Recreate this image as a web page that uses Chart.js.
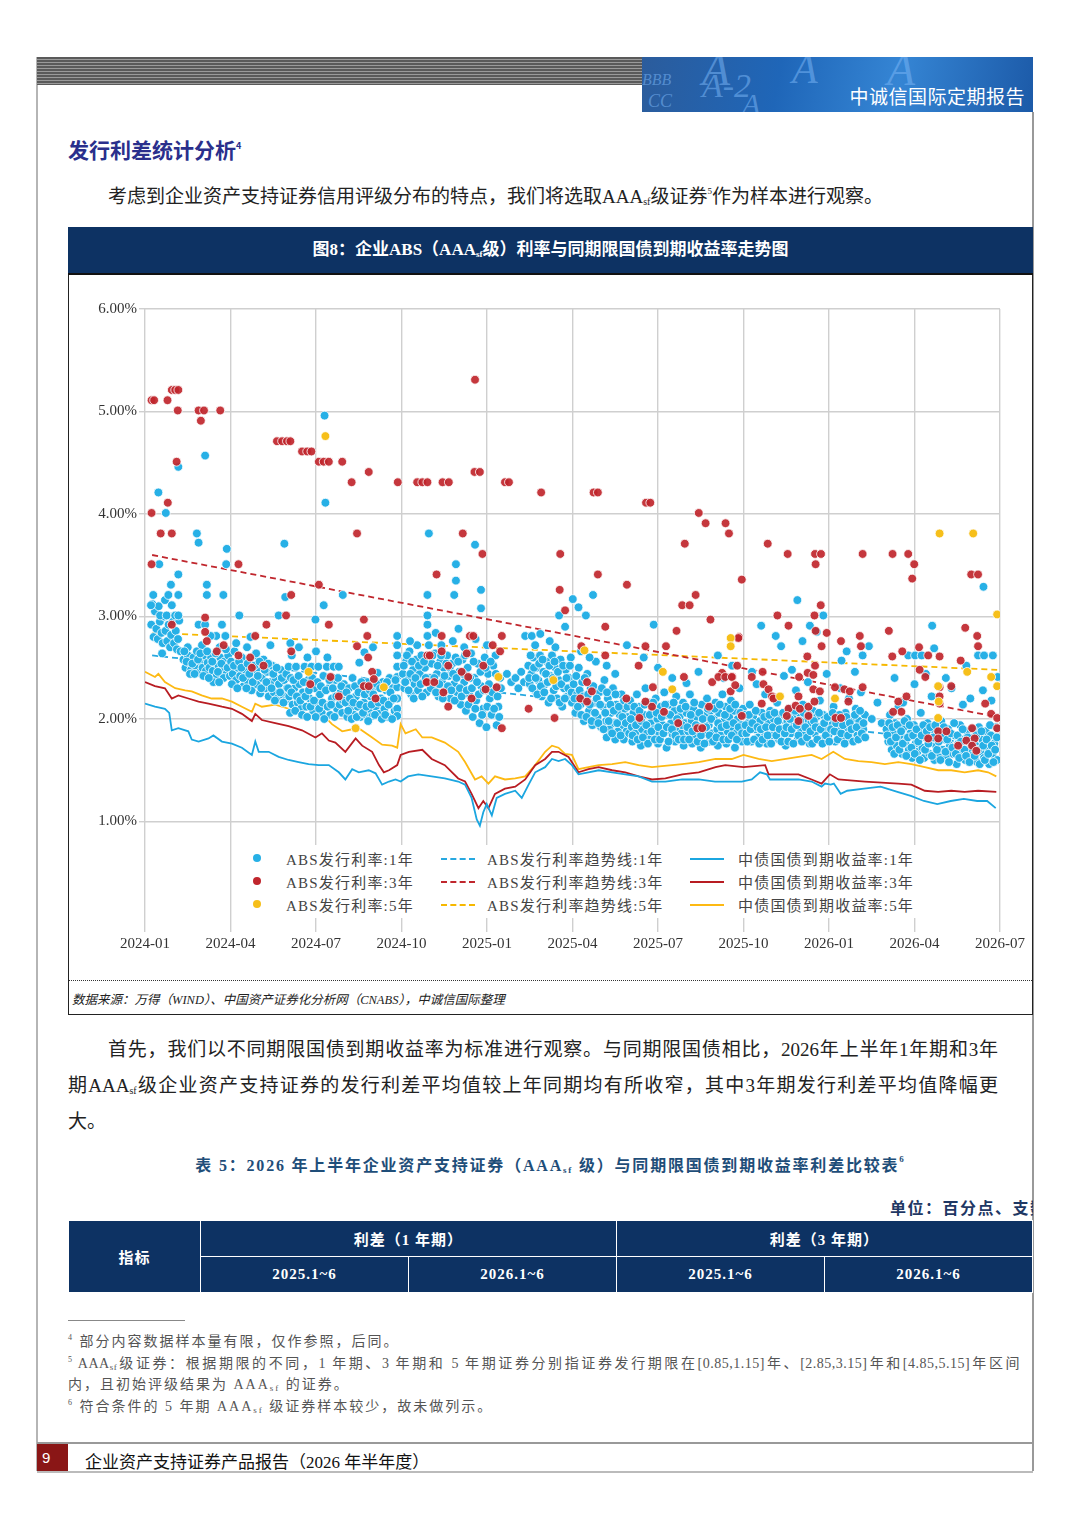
<!DOCTYPE html>
<html lang="zh">
<head>
<meta charset="UTF-8">
<script src="https://cdn.jsdelivr.net/npm/chart.js@4.4.1/dist/chart.umd.min.js"></script>
<title>企业ABS利率与同期限国债到期收益率走势图</title>
<style>
  body { margin: 0; background: #fff; }
  #page { position: relative; width: 1080px; height: 1528px; overflow: hidden; background: #fff;
          font-family: "Liberation Serif", "Noto Sans CJK SC", serif; color: #222; }
  .abs { position: absolute; }
  .stripes { left: 37px; top: 57px; width: 605px; height: 28px;
             background: repeating-linear-gradient(to bottom, #5a5a5a 0 2px, #9a9a9a 2px 3px); }
  .banner { left: 642px; top: 57px; width: 391px; height: 55px; overflow: hidden;
            background: linear-gradient(100deg, #2b5c9c 0%, #1f66b8 35%, #3585d4 65%, #1c5aa8 100%); }
  .banner .lt { position: absolute; font-family: "Liberation Serif"; font-style: italic; color: rgba(120,180,245,0.55); }
  .banner .name { position: absolute; right: 8px; top: 25px; color: #fff; font-size: 19px;
                  font-family: "Noto Sans CJK SC"; letter-spacing: 0.5px; }
  .h2 { left: 68px; top: 134px; font-size: 21px; font-weight: bold; color: #2a2f8c; font-family: "Noto Sans CJK SC"; }
  sup { font-size: 9px; vertical-align: 9px; line-height: 0; }
  sub { font-size: 10px; vertical-align: -2px; line-height: 0; }
  .p { font-size: 19px; color: #222; }
  .chartbox { left: 68px; top: 227px; width: 963px; height: 786px; border: 1.5px solid #222; }
  .ctitle { left: 68px; top: 227px; width: 965px; height: 46px; background: #0d3263; border-bottom: 2px solid #111;
            color: #fff; font-weight: bold; font-size: 17px; text-align: center; line-height: 46px;
            font-family: "Liberation Serif", "Noto Sans CJK SC"; }
  .dotted { left: 69px; top: 980px; width: 963px; border-top: 1px dotted #333; }
  .source { left: 72px; top: 989px; font-size: 12.5px; font-style: italic; color: #222; }
  #wrap { position: absolute; left: 70px; top: 276px; width: 962px; height: 702px; }
  .legend { left: 243px; top: 845px; width: 677px; height: 73px; background: #fff; }
  .legend .it { position: absolute; font-size: 15px; color: #444; letter-spacing: 1.2px; white-space: nowrap; }
  .legend .dot { position: absolute; width: 8px; height: 8px; border-radius: 50%; }
  .legend .ln { position: absolute; width: 34px; height: 0; }
  .tcap { left: 68px; top: 1152px; width: 965px; text-align: center; font-size: 16px; font-weight: bold;
          color: #1f4e79; letter-spacing: 1.8px; }
  .unit { left: 890px; top: 1195px; width: 143px; overflow: hidden; white-space: nowrap; font-size: 16px;
          font-weight: bold; color: #1f3864; letter-spacing: 1.5px; }
  table.t { position: absolute; left: 68px; top: 1220px; width: 965px; border-collapse: collapse; }
  table.t td { background: #0d3263; color: #fff; font-weight: bold; font-size: 15px; text-align: center;
               border: 1.5px solid #fff; height: 35px; padding: 0; letter-spacing: 1px; }
  .fnline { left: 68px; top: 1320px; width: 117px; border-top: 1.5px solid #888; }
  .fn { left: 68px; font-size: 14px; color: #555; white-space: nowrap; letter-spacing: 2px; }
  .fn sup { font-size: 8px; vertical-align: 6px; }
  .fn sub { font-size: 9px; }
</style>
</head>
<body>
<div id="page">
  <!-- page frame -->
  <div class="abs" style="left:36px;top:57px;width:2px;height:1414px;background:#b5b5b5;"></div>
  <div class="abs" style="left:1032px;top:112px;width:1.5px;height:1359px;background:#999;"></div>

  <!-- header -->
  <div class="abs stripes"></div>
  <div class="abs banner">
    <div class="lt" style="left:60px;top:-14px;font-size:46px;">A</div>
    <div class="lt" style="left:150px;top:-12px;font-size:42px;">A</div>
    <div class="lt" style="left:245px;top:-14px;font-size:46px;">A</div>
    <div class="lt" style="left:0px;top:14px;font-size:16px;">BBB</div>
    <div class="lt" style="left:60px;top:10px;font-size:34px;">A-2</div>
    <div class="lt" style="left:6px;top:34px;font-size:18px;">CC</div>
    <div class="lt" style="left:100px;top:30px;font-size:30px;">A</div>
    <div class="name">中诚信国际定期报告</div>
  </div>

  <div class="abs h2">发行利差统计分析<sup>4</sup></div>
  <div class="abs p" style="left:108px;top:181px;">考虑到企业资产支持证券信用评级分布的特点，我们将选取AAA<sub>sf</sub>级证券<sup>5</sup>作为样本进行观察。</div>

  <!-- chart block -->
  <div class="abs chartbox"></div>
  <div class="abs ctitle">图8：企业ABS（AAA<sub style="font-size:9px">sf</sub>级）利率与同期限国债到期收益率走势图</div>
  <div id="wrap"><canvas id="chart"></canvas></div>
  <div class="abs legend">
    <div class="dot" style="left:10px;top:9px;background:#27b0e6;"></div>
    <div class="it" style="left:43px;top:3px;">ABS发行利率:1年</div>
    <div class="dot" style="left:10px;top:32px;background:#c0262d;"></div>
    <div class="it" style="left:43px;top:26px;">ABS发行利率:3年</div>
    <div class="dot" style="left:10px;top:55px;background:#f6bf1a;"></div>
    <div class="it" style="left:43px;top:49px;">ABS发行利率:5年</div>

    <div class="ln" style="left:198px;top:13px;border-top:2px dashed #27a8e0;"></div>
    <div class="it" style="left:244px;top:3px;">ABS发行利率趋势线:1年</div>
    <div class="ln" style="left:198px;top:36px;border-top:2px dashed #c0262d;"></div>
    <div class="it" style="left:244px;top:26px;">ABS发行利率趋势线:3年</div>
    <div class="ln" style="left:198px;top:59px;border-top:2px dashed #f6b800;"></div>
    <div class="it" style="left:244px;top:49px;">ABS发行利率趋势线:5年</div>

    <div class="ln" style="left:447px;top:13px;border-top:2px solid #1ba6e0;"></div>
    <div class="it" style="left:495px;top:3px;">中债国债到期收益率:1年</div>
    <div class="ln" style="left:447px;top:36px;border-top:2px solid #b81c22;"></div>
    <div class="it" style="left:495px;top:26px;">中债国债到期收益率:3年</div>
    <div class="ln" style="left:447px;top:59px;border-top:2px solid #fdb913;"></div>
    <div class="it" style="left:495px;top:49px;">中债国债到期收益率:5年</div>
  </div>
  <div class="abs dotted"></div>
  <div class="abs source">数据来源：万得（WIND）、中国资产证券化分析网（CNABS），中诚信国际整理</div>

  <!-- text after chart -->
  <div class="abs p" style="left:108px;top:1034px;width:890px;text-align:justify;text-align-last:justify;">首先，我们以不同期限国债到期收益率为标准进行观察。与同期限国债相比，2026年上半年1年期和3年</div>
  <div class="abs p" style="left:68px;top:1070px;width:930px;text-align:justify;text-align-last:justify;">期AAA<sub>sf</sub>级企业资产支持证券的发行利差平均值较上年同期均有所收窄，其中3年期发行利差平均值降幅更</div>
  <div class="abs p" style="left:68px;top:1106px;">大。</div>

  <div class="abs tcap">表 5：2026 年上半年企业资产支持证券（AAA<sub style="font-size:9px">sf</sub> 级）与同期限国债到期收益率利差比较表<sup>6</sup></div>
  <div class="abs unit">单位：百分点、支数</div>
  <table class="t">
    <tr><td rowspan="2" style="width:131px;">指标</td><td colspan="2">利差（1 年期）</td><td colspan="2">利差（3 年期）</td></tr>
    <tr><td style="width:207px;">2025.1~6</td><td style="width:207px;">2026.1~6</td><td style="width:207px;">2025.1~6</td><td>2026.1~6</td></tr>
  </table>

  <!-- footnotes -->
  <div class="abs fnline"></div>
  <div class="abs fn" style="top:1330px;"><sup>4</sup> 部分内容数据样本量有限，仅作参照，后同。</div>
  <div class="abs fn" style="top:1352px;left:68px;width:952px;text-align:justify;text-align-last:justify;white-space:normal;letter-spacing:0.5px;"><sup>5</sup> AAA<sub>sf</sub>级证券：根据期限的不同，1 年期、3 年期和 5 年期证券分别指证券发行期限在[0.85,1.15]年、[2.85,3.15]年和[4.85,5.15]年区间</div>
  <div class="abs fn" style="top:1373px;">内，且初始评级结果为 AAA<sub>sf</sub> 的证券。</div>
  <div class="abs fn" style="top:1395px;"><sup>6</sup> 符合条件的 5 年期 AAA<sub>sf</sub> 级证券样本较少，故未做列示。</div>

  <!-- footer -->
  <div class="abs" style="left:37px;top:1442px;width:996px;height:2px;background:#999;"></div>
  <div class="abs" style="left:37px;top:1444px;width:31px;height:27px;background:#8a1616;color:#fff;font-family:'Liberation Sans';font-size:15px;line-height:27px;text-indent:5px;">9</div>
  <div class="abs" style="left:37px;top:1471px;width:996px;height:1.5px;background:#bbb;"></div>
  <div class="abs" style="left:85px;top:1448px;font-size:17px;color:#111;">企业资产支持证券产品报告（2026 年半年度）</div>
</div>

<script>
// x = months since 2024-01, y = rate (%)
const monthTicks = ['2024-01', '2024-04', '2024-07', '2024-10', '2025-01', '2025-04', '2025-07', '2025-10', '2026-01', '2026-04', '2026-07'];
const yTicks = [1, 2, 3, 4, 5, 6];

// ABS issue rate, 1Y
const abs1y = [
  [0.22,2.92],[0.30,2.80],[0.35,3.05],[0.40,2.88],[0.45,2.78],[0.52,2.95],[0.58,2.84],[0.62,2.74],[0.68,3.00],[0.72,2.86],
  [0.78,2.76],[0.83,2.92],[0.88,2.70],[0.92,2.82],[0.98,2.95],[1.02,2.74],[1.08,2.86],[1.12,2.68],[1.16,2.78],[1.20,2.96],
  [1.25,2.66],[0.26,3.12],[0.48,3.10],[0.70,3.16],[0.94,3.11],[0.53,3.01],[0.76,3.01],[1.06,3.01],[1.17,3.01],[0.29,3.21],
  [0.82,3.21],[1.17,3.21],[0.91,3.31],[1.17,3.41],[0.50,3.51],[0.73,4.01],[0.47,4.21],[1.17,4.46],[0.21,3.11],[0.60,2.64],
  [1.35,2.58],[1.42,2.50],[1.50,2.62],[1.55,2.55],[1.62,2.48],[1.70,2.60],[1.76,2.52],[1.82,2.66],[1.88,2.92],[1.90,2.45],
  [1.96,2.56],[2.02,2.50],[2.08,2.62],[2.11,2.92],[2.14,2.47],[2.20,2.55],[2.26,2.50],[2.32,2.60],[2.38,2.47],[2.44,2.55],
  [2.50,2.81],[2.52,2.42],[2.58,2.52],[2.64,2.60],[2.70,2.92],[2.72,2.48],[2.78,2.56],[2.82,2.81],[2.86,2.44],[2.92,2.62],
  [2.96,2.52],[2.40,2.36],[1.82,3.81],[1.88,3.72],[2.17,3.31],[2.17,3.21],[2.75,3.21],[2.87,3.66],[2.85,3.51],[2.11,4.57],
  [1.50,2.70],[2.00,2.72],[2.30,2.81],[2.62,2.70],
  [1.38,2.66],[1.46,2.56],[1.58,2.44],[1.66,2.54],[1.74,2.44],[1.86,2.58],[1.94,2.64],[2.05,2.42],[2.18,2.66],[2.24,2.40],
  [2.36,2.56],[2.48,2.64],[2.56,2.46],[2.68,2.54],[2.76,2.40],[2.90,2.50],[2.98,2.42],[2.60,2.36],[2.84,2.68],
  [3.02,2.56],[3.08,2.44],[3.14,2.66],[3.20,2.38],[3.26,2.50],[3.31,3.01],[3.34,2.42],[3.40,2.60],[3.46,2.32],[3.52,2.48],
  [3.58,2.70],[3.62,2.36],[3.68,2.55],[3.74,2.28],[3.80,2.44],[3.86,2.62],[3.92,2.34],[3.98,2.50],[4.04,2.25],[4.10,2.40],
  [4.16,2.58],[4.22,2.30],[4.28,2.46],[4.34,2.22],[4.40,2.36],[4.46,2.52],[4.52,2.26],[4.58,2.40],[4.64,2.20],[4.69,3.01],
  [4.70,2.34],[4.76,2.48],[4.82,2.24],[4.88,2.38],[4.89,3.71],[4.92,3.19],[4.94,2.18],[4.98,2.30],[3.20,2.74],[3.70,2.80],
  [4.40,2.72],[3.90,2.64],
  [3.05,2.34],[3.12,2.52],[3.24,2.30],[3.30,2.56],[3.38,2.50],[3.44,2.40],[3.56,2.30],[3.60,2.54],[3.66,2.44],[3.78,2.36],
  [3.84,2.52],[3.96,2.42],[4.02,2.56],[4.08,2.30],[4.20,2.48],[4.26,2.36],[4.32,2.54],[4.44,2.30],[4.50,2.44],[4.56,2.18],
  [4.62,2.50],[4.74,2.26],[4.80,2.40],[4.86,2.16],[4.96,2.44],
  [5.04,2.51],[5.06,2.22],[5.12,2.40],[5.18,2.14],[5.24,2.30],[5.30,2.51],[5.36,2.16],[5.42,2.34],[5.48,2.10],[5.54,2.26],
  [5.60,2.51],[5.66,2.12],[5.72,2.38],[5.78,2.20],[5.84,2.51],[5.90,2.08],[5.96,2.30],[5.98,2.97],[6.02,2.16],[6.08,2.51],
  [6.14,2.24],[6.20,2.06],[6.26,2.42],[6.27,3.11],[6.30,4.96],[6.33,4.11],[6.32,2.14],[6.38,2.51],[6.44,2.30],[6.50,2.04],
  [6.56,2.20],[6.62,2.51],[6.68,2.38],[6.74,2.10],[6.80,2.51],[6.86,2.26],[6.92,2.06],[6.94,3.21],[6.98,2.34],[5.15,2.62],
  [5.40,2.70],[5.70,2.60],[6.00,2.66],[6.40,2.60],[5.10,2.74],
  [5.02,2.30],[5.09,2.06],[5.14,2.26],[5.21,2.38],[5.27,2.08],[5.33,2.22],[5.39,2.42],[5.45,2.18],[5.51,2.04],[5.57,2.36],
  [5.63,2.22],[5.69,2.02],[5.75,2.28],[5.81,2.12],[5.87,2.40],[5.93,2.18],[5.99,2.02],[6.05,2.36],[6.11,2.10],[6.17,2.32],
  [6.23,2.16],[6.29,2.00],[6.35,2.28],[6.41,2.12],[6.47,2.38],[6.53,2.14],[6.59,2.30],[6.65,2.02],[6.71,2.22],[6.77,2.40],
  [6.83,2.14],[6.89,2.32],[6.95,2.18],
  [7.04,2.16],[7.10,2.02],[7.16,2.30],[7.22,2.10],[7.28,2.40],[7.34,2.04],[7.40,2.22],[7.46,2.12],[7.52,2.55],[7.56,2.02],
  [7.62,2.28],[7.68,2.16],[7.74,2.04],[7.80,2.36],[7.86,2.10],[7.92,2.22],[7.98,2.03],[8.04,2.30],[8.10,2.12],[8.16,2.45],
  [8.22,2.05],[8.28,2.20],[8.34,2.36],[8.40,2.10],[8.46,2.28],[8.52,2.02],[8.58,2.40],[8.64,2.18],[8.70,2.30],[8.76,2.08],
  [8.85,2.81],[8.85,2.72],[8.85,2.62],[8.85,2.51],[8.85,2.41],[8.85,2.31],[8.85,2.20],[8.85,2.10],[8.85,2.03],[7.39,1.91],
  [7.70,2.65],[8.00,2.70],[8.38,2.31],
  [7.07,2.26],[7.13,2.08],[7.19,2.20],[7.25,2.00],[7.31,2.16],[7.37,2.32],[7.43,2.02],[7.49,2.26],[7.55,2.14],[7.59,2.36],
  [7.65,2.06],[7.71,2.24],[7.77,2.12],[7.83,1.98],[7.89,2.28],[7.95,2.14],[8.01,2.24],[8.07,2.04],[8.13,2.34],[8.19,2.16],
  [8.25,2.30],[8.31,2.00],[8.37,2.18],[8.43,2.04],[8.49,2.36],[8.55,2.14],[8.61,2.26],[8.67,2.00],[8.73,2.20],[8.79,2.38],
  [9.05,2.44],[9.10,2.30],[9.16,2.56],[9.22,2.38],[9.28,2.66],[9.34,2.24],[9.40,2.48],[9.46,2.34],[9.52,2.58],[9.55,2.72],
  [9.58,2.28],[9.64,2.44],[9.70,2.62],[9.76,2.36],[9.82,2.50],[9.88,2.26],[9.91,2.81],[9.91,2.92],[9.91,3.01],[9.91,3.21],
  [9.94,2.60],[9.96,3.81],[10.00,2.40],[10.06,2.54],[10.12,2.30],[10.18,2.64],[10.24,2.44],[10.30,2.22],[10.36,2.56],[10.42,2.36],
  [10.48,2.50],[10.54,2.28],[10.60,2.62],[10.66,2.42],[10.72,2.20],[10.78,2.54],[10.84,2.34],[10.85,3.21],[10.90,2.60],[10.91,3.35],
  [10.91,3.51],[10.96,2.26],[11.02,2.46],[11.08,2.14],[11.14,2.58],[11.20,2.36],[11.26,2.08],[11.32,2.50],[11.38,2.24],[11.44,2.64],
  [11.50,2.02],[11.56,2.40],[11.58,3.70],[11.62,2.18],[11.68,2.54],[11.74,1.96],[11.79,3.26],[11.79,3.08],[11.80,2.32],[11.86,2.10],
  [11.92,2.60],[11.98,1.92],[12.04,2.44],[12.10,2.20],[12.16,2.04],[12.22,2.52],[12.28,2.30],[12.34,1.94],[12.40,2.12],[12.46,2.40],
  [9.30,2.76],[9.96,2.72],[10.40,2.72],[10.80,2.76],[11.20,2.70],[11.60,2.78],[12.00,2.72],[12.30,2.62],[10.20,2.84],[11.00,2.88],
  [9.08,2.52],[9.13,2.36],[9.19,2.62],[9.25,2.28],[9.31,2.44],[9.37,2.56],[9.43,2.20],[9.49,2.40],[9.61,2.52],[9.67,2.34],
  [9.73,2.22],[9.79,2.56],[9.85,2.40],[10.03,2.30],[10.09,2.62],[10.15,2.40],[10.21,2.26],[10.27,2.52],[10.33,2.34],[10.39,2.62],
  [10.45,2.20],[10.51,2.42],[10.57,2.54],[10.63,2.32],[10.69,2.50],[10.75,2.28],[10.81,2.44],[10.87,2.18],[10.93,2.40],[10.99,2.56],
  [11.05,2.30],[11.11,2.22],[11.17,2.44],[11.23,2.62],[11.29,2.28],[11.35,2.14],[11.41,2.40],[11.47,2.30],[11.53,2.56],[11.59,2.10],
  [11.65,2.36],[11.71,2.24],[11.77,2.46],[11.83,2.04],[11.89,2.28],[11.95,2.50],[12.01,2.12],[12.07,2.34],[12.13,2.56],[12.19,2.26],
  [12.25,2.10],[12.31,2.44],[12.37,2.22],[12.43,2.02],[12.49,2.30],
  [12.70,2.44],[12.85,2.36],[13.00,2.40],[13.10,2.30],[13.20,2.46],[13.34,2.81],[13.30,2.36],
  [13.45,2.52],[13.50,2.34],[13.57,2.81],[13.56,2.44],[13.62,2.60],[13.68,2.28],[13.69,2.72],[13.74,2.50],[13.80,2.38],[13.86,2.62],
  [13.87,2.83],[13.92,2.22],[13.98,2.46],[14.04,2.34],[14.10,2.56],[14.16,2.16],[14.22,2.42],[14.28,2.62],[14.34,2.28],[14.40,2.50],
  [14.46,2.20],[14.52,2.38],[14.53,3.01],[14.58,2.58],[14.64,2.12],[14.70,2.30],[14.74,2.90],[14.76,2.48],[14.82,2.22],[14.88,2.40],
  [14.94,2.60],[14.98,2.16],[14.40,2.70],[14.20,2.76],
  [13.48,2.40],[13.53,2.62],[13.59,2.30],[13.65,2.50],[13.71,2.40],[13.77,2.24],[13.83,2.54],[13.89,2.32],[13.95,2.58],[14.01,2.26],
  [14.07,2.44],[14.13,2.36],[14.19,2.52],[14.25,2.20],[14.31,2.40],[14.37,2.56],[14.43,2.32],[14.49,2.46],[14.55,2.16],[14.61,2.34],
  [14.67,2.52],[14.73,2.20],[14.79,2.40],[14.85,2.30],[14.91,2.52],[14.97,2.26],
  [15.01,3.17],[15.04,2.34],[15.10,2.06],[15.16,2.24],[15.21,3.09],[15.22,2.50],[15.28,2.14],[15.34,2.36],[15.40,1.98],[15.46,2.20],
  [15.47,3.01],[15.52,2.44],[15.58,2.08],[15.64,2.30],[15.70,1.94],[15.72,3.21],[15.76,2.16],[15.82,2.56],[15.88,2.02],[15.94,2.26],
  [16.00,1.92],[16.06,2.12],[16.12,2.38],[16.18,1.98],[16.24,2.20],[16.30,1.90],[16.36,2.06],[16.42,2.30],[16.48,1.96],[16.54,2.14],
  [16.60,1.88],[16.66,2.04],[16.72,2.24],[16.78,1.94],[16.84,2.10],[16.90,1.88],[16.91,2.72],[16.96,2.02],[15.60,2.60],[16.20,2.52],
  [16.50,2.44],[15.30,2.66],[16.20,1.82],[16.50,1.80],[16.80,1.80],
  [15.07,2.20],[15.13,2.42],[15.19,2.12],[15.25,2.28],[15.31,2.04],[15.37,2.22],[15.43,2.40],[15.49,2.02],[15.55,2.24],[15.61,2.14],
  [15.67,1.98],[15.73,2.32],[15.79,2.06],[15.85,2.20],[15.91,1.96],[15.97,2.14],[16.03,2.30],[16.09,1.90],[16.15,2.06],[16.21,2.26],
  [16.27,1.98],[16.33,2.14],[16.39,1.86],[16.45,2.08],[16.51,2.24],[16.57,1.96],[16.63,2.12],[16.69,1.84],[16.75,2.02],[16.81,2.18],
  [16.87,1.96],[16.93,2.12],[16.99,1.86],
  [17.02,2.18],[17.08,1.92],[17.14,2.06],[17.20,1.86],[17.26,2.24],[17.32,1.98],[17.38,2.12],[17.44,1.90],[17.50,2.04],[17.56,2.30],
  [17.62,1.86],[17.68,2.16],[17.74,1.96],[17.80,2.08],[17.85,2.92],[17.86,1.90],[17.92,2.20],[17.98,2.00],[18.04,1.86],[18.10,2.12],
  [18.16,1.94],[18.22,2.26],[18.28,2.04],[18.34,1.88],[18.40,2.14],[18.46,1.96],[18.52,1.84],[18.58,2.08],[18.64,2.22],[18.70,1.92],
  [18.76,2.02],[18.82,1.86],[18.88,2.16],[18.94,1.96],[19.00,2.06],[19.06,1.88],[19.12,2.24],[19.18,1.98],[19.24,2.10],[19.30,1.84],
  [19.36,2.02],[19.42,2.46],[19.48,1.92],[19.54,2.14],[19.60,1.86],[19.66,2.04],[19.72,2.20],[19.78,1.94],[19.84,2.08],[19.90,1.86],
  [19.96,2.00],[20.02,2.16],[20.08,1.90],[20.14,2.06],[20.20,1.84],[20.26,2.24],[20.32,1.98],[20.38,2.12],[20.44,1.88],[20.50,2.02],
  [20.56,2.18],[20.62,1.92],[20.68,2.08],[20.74,1.86],[20.80,2.00],[20.86,2.30],[20.92,1.94],[20.98,2.10],[17.50,2.60],[18.00,2.50],
  [18.50,2.40],[19.00,2.35],[20.30,2.40],[20.60,2.52],[20.10,2.62],
  [17.10,1.78],[17.40,1.74],[17.70,1.80],[18.00,1.76],[18.30,1.72],[18.60,1.78],[18.90,1.74],[19.20,1.76],[19.50,1.72],[19.80,1.78],
  [20.10,1.74],[20.40,1.76],[20.70,1.72],[20.95,1.78],
  [17.05,2.00],[17.11,1.84],[17.17,2.12],[17.23,1.94],[17.29,1.80],[17.35,2.08],[17.41,1.98],[17.47,1.82],[17.53,2.14],[17.59,1.94],
  [17.65,1.76],[17.71,2.04],[17.77,1.88],[17.83,2.16],[17.89,1.80],[17.95,2.06],[18.01,1.92],[18.07,1.80],[18.13,2.02],[18.19,1.86],
  [18.25,2.14],[18.31,1.92],[18.37,1.78],[18.43,2.04],[18.49,1.90],[18.55,2.16],[18.61,1.84],[18.67,2.00],[18.73,1.80],[18.79,2.10],
  [18.85,1.94],[18.91,1.80],[18.97,2.12],[19.03,1.92],[19.09,1.80],[19.15,2.04],[19.21,1.88],[19.27,2.16],[19.33,1.94],[19.39,1.78],
  [19.45,2.06],[19.51,1.84],[19.57,2.00],[19.63,1.76],[19.69,1.92],[19.75,2.10],[19.81,1.84],[19.87,2.00],[19.93,1.78],[19.99,2.10],
  [20.05,1.82],[20.11,1.96],[20.17,2.14],[20.23,1.92],[20.29,1.80],[20.35,2.04],[20.41,1.94],[20.47,1.80],[20.53,2.10],[20.59,1.84],
  [20.65,1.96],[20.71,2.14],[20.77,1.80],[20.83,1.92],[20.89,2.06],[20.95,1.86],
  [21.04,2.04],[21.10,1.86],[21.16,1.96],[21.22,2.14],[21.28,1.78],[21.34,2.02],[21.40,1.90],[21.46,2.34],[21.52,1.82],[21.58,1.98],
  [21.62,2.91],[21.64,2.06],[21.70,1.88],[21.76,2.24],[21.82,1.76],[21.88,1.96],[21.94,2.08],[22.00,1.84],[22.06,2.00],[22.12,1.92],
  [22.13,2.81],[22.18,2.16],[22.24,1.80],[22.30,2.04],[22.32,2.71],[22.36,1.90],[22.42,2.42],[22.48,1.74],[22.54,1.98],[22.60,2.10],
  [22.66,1.86],[22.72,2.02],[22.78,1.94],[22.84,2.28],[22.89,3.16],[22.90,1.80],[22.96,2.06],[23.02,1.90],[23.07,2.76],[23.08,2.14],
  [23.14,1.84],[23.20,2.00],[23.26,2.36],[23.32,1.76],[23.33,2.91],[23.38,1.96],[23.44,2.08],[23.50,1.86],[23.56,2.02],[23.57,2.85],
  [23.62,1.92],[23.68,2.18],[23.74,1.80],[23.80,3.01],[23.80,2.04],[23.86,1.90],[23.92,2.44],[23.98,1.84],[24.04,2.00],[24.10,1.94],
  [24.16,2.12],[24.22,1.78],[24.28,2.02],[24.34,1.88],[24.40,2.30],[24.44,2.57],[24.46,1.96],[24.52,1.82],[24.58,2.06],[24.62,2.66],
  [24.64,1.92],[24.70,2.20],[24.76,1.80],[24.82,2.00],[24.88,1.88],[24.91,2.46],[24.94,2.10],[25.00,1.84],[25.06,1.98],[25.12,2.26],
  [25.18,2.62],[25.20,1.90],[25.26,2.04],[25.40,2.71],[21.30,2.46],[22.70,2.48],
  [21.07,1.94],[21.13,1.78],[21.19,2.04],[21.25,1.90],[21.31,1.96],[21.37,1.80],[21.43,2.08],[21.49,1.92],[21.55,1.76],[21.61,1.90],
  [21.67,1.80],[21.73,2.02],[21.79,1.92],[21.85,1.84],[21.91,2.04],[21.97,1.76],[22.03,1.92],[22.09,2.06],[22.15,1.84],[22.21,1.98],
  [22.27,1.90],[22.33,1.78],[22.39,2.06],[22.45,1.86],[22.51,1.92],[22.57,1.78],[22.63,2.00],[22.69,1.90],[22.75,1.76],[22.81,2.08],
  [22.87,1.94],[22.93,1.84],[22.99,1.98],[23.05,1.78],[23.11,2.06],[23.17,1.92],[23.23,1.82],[23.29,2.04],[23.35,1.88],[23.41,1.76],
  [23.47,1.98],[23.53,1.92],[23.59,1.80],[23.65,2.06],[23.71,1.90],[23.77,1.76],[23.83,1.96],[23.89,1.84],[23.95,2.02],[24.01,1.78],
  [24.07,1.90],[24.13,2.06],[24.19,1.88],[24.25,1.96],[24.31,1.80],[24.37,2.04],[24.43,1.86],[24.49,1.94],[24.55,1.76],[24.61,2.02],
  [24.67,1.84],[24.73,1.96],[24.79,1.90],[24.85,1.78],[24.91,2.04],[24.97,1.92],[25.03,1.80],[25.09,2.08],[25.15,1.86],[25.21,1.96],
  [25.27,1.82],
  [25.50,2.00],[25.70,2.16],[25.85,1.96],
  [26.02,1.90],[26.08,1.78],[26.14,2.04],[26.20,1.70],[26.26,1.86],[26.32,1.96],[26.38,1.74],[26.44,2.12],[26.50,1.82],[26.56,1.66],
  [26.62,1.92],[26.68,1.78],[26.74,2.00],[26.78,2.62],[26.80,1.70],[26.86,1.86],[26.92,1.62],[26.98,1.94],[27.02,2.62],[27.04,1.76],
  [27.10,1.68],[27.16,1.88],[27.22,2.06],[27.25,2.62],[27.28,1.72],[27.34,1.62],[27.40,1.82],[27.46,1.96],[27.52,1.66],[27.58,1.78],
  [27.62,2.91],[27.64,1.90],[27.69,2.69],[27.70,1.60],[27.76,1.74],[27.82,1.86],[27.88,1.66],[27.94,1.98],[28.00,1.70],[28.06,1.80],
  [28.12,1.62],[28.18,1.90],[28.24,1.74],[28.30,2.30],[28.36,1.66],[28.42,1.84],[28.48,1.56],[28.54,1.76],[28.60,1.94],[28.66,1.68],
  [28.72,1.80],[28.78,1.60],[28.82,2.52],[28.84,1.88],[28.90,1.70],[28.96,2.20],[29.02,1.64],[29.08,1.82],[29.14,1.74],[29.20,1.58],
  [29.23,2.62],[29.26,1.92],[29.32,1.68],[29.38,1.80],[29.42,3.29],[29.44,2.62],[29.44,1.62],[29.50,1.88],[29.56,1.72],[29.62,1.56],
  [29.68,1.84],[29.74,1.66],[29.75,2.62],[29.80,1.76],[29.86,1.92],[29.90,1.60],[29.92,2.41],[26.30,2.40],[27.00,2.34],[27.60,2.22],
  [28.10,2.40],[28.70,2.14],[29.40,2.28],[29.70,2.18],[26.60,2.16],[27.40,2.44],
  [26.05,1.84],[26.11,1.96],[26.17,1.78],[26.23,1.92],[26.29,1.66],[26.35,1.82],[26.41,1.94],[26.47,1.70],[26.53,1.88],[26.59,1.76],
  [26.65,1.98],[26.71,1.64],[26.77,1.82],[26.83,1.94],[26.89,1.72],[26.95,1.84],[27.01,1.66],[27.07,1.90],[27.13,1.78],[27.19,1.60],
  [27.25,1.84],[27.31,1.94],[27.37,1.70],[27.43,1.88],[27.49,1.76],[27.55,1.92],[27.61,1.64],[27.67,1.82],[27.73,1.94],[27.79,1.70],
  [27.85,1.78],[27.91,1.60],[27.97,1.84],[28.03,1.92],[28.09,1.68],[28.15,1.80],[28.21,1.58],[28.27,1.86],[28.33,1.72],[28.39,1.96],
  [28.45,1.66],[28.51,1.84],[28.57,1.62],[28.63,1.78],[28.69,1.90],[28.75,1.70],[28.81,1.64],[28.87,1.82],[28.93,1.58],[28.99,1.76],
  [29.05,1.90],[29.11,1.64],[29.17,1.84],[29.23,1.70],[29.29,1.56],[29.35,1.88],[29.41,1.74],[29.47,1.60],[29.53,1.80],[29.59,1.66],
  [29.65,1.94],[29.71,1.74],[29.77,1.58],[29.83,1.70],[29.89,1.82]
];

// ABS issue rate, 3Y
const abs3y = [
  [0.23,5.11],[0.32,5.11],[0.79,5.11],[0.94,5.21],[1.06,5.21],[1.17,5.21],[1.15,5.01],[1.88,5.01],[2.07,5.01],[2.64,5.01],
  [1.96,4.91],[1.11,4.51],[0.23,4.01],[0.80,4.11],[0.55,3.81],[0.94,3.81],[0.23,3.51],[3.28,3.51],[4.63,4.71],[4.81,4.71],
  [4.98,4.71],[5.10,4.71],[5.51,4.61],[5.69,4.61],[5.84,4.61],[6.10,4.51],[6.27,4.51],[6.45,4.51],[6.92,4.51],[7.25,4.31],
  [7.85,4.41],[7.44,3.81],[8.87,4.31],[9.55,4.31],[9.73,4.31],[9.91,4.31],[5.13,3.21],[4.95,3.01],[6.10,3.31],[6.45,2.92],
  [7.68,2.97],[7.80,2.81],[2.11,2.99],[2.11,2.85],[2.17,2.76],[0.94,2.92],[2.76,2.72],[2.52,2.66],[3.87,2.81],[4.26,2.92],
  [3.28,2.62],[3.69,2.60],[4.16,2.52],[3.75,2.50],[5.13,2.66],[6.51,2.41],[5.80,2.34],[6.80,2.22],[7.44,2.71],[7.83,2.60],
  [7.97,2.46],[8.03,2.39],[7.68,2.32],[7.85,2.32],[8.09,2.20],[9.91,2.36],[9.91,2.62],
  [10.44,4.31],[10.66,4.31],[11.58,5.31],[11.56,4.41],[11.75,4.41],[12.63,4.31],[12.77,4.31],[13.90,4.21],[15.74,4.21],[15.89,4.21],
  [17.58,4.11],[17.73,4.11],[19.43,4.01],[19.67,3.91],[20.37,3.91],[20.49,3.81],[11.15,3.81],[11.84,3.61],[10.23,3.41],[14.57,3.61],
  [15.89,3.41],[16.91,3.31],[14.55,3.26],[14.74,3.06],[18.94,3.71],[19.32,3.21],[18.85,3.11],[19.11,3.11],[19.84,2.97],[18.65,2.86],
  [16.15,2.90],[15.31,2.71],[17.56,2.71],[18.28,2.71],[10.41,2.81],[11.40,2.81],[11.52,2.81],[12.52,2.81],[9.99,2.62],[10.41,2.66],
  [11.29,2.64],[12.46,2.66],[12.20,2.72],[10.64,2.52],[11.87,2.52],[9.88,2.36],[10.15,2.36],[11.11,2.46],[11.34,2.41],[11.95,2.29],
  [12.34,2.31],[10.47,2.26],[11.46,2.20],[10.64,2.12],[12.52,1.91],[13.46,2.10],[14.37,2.01],[15.51,2.36],[15.68,2.27],[16.15,2.62],
  [15.27,2.20],[15.51,2.17],[16.89,2.20],[17.32,2.52],[17.82,2.31],[17.56,2.17],[17.79,2.12],[18.21,2.07],[17.35,2.01],[18.91,2.41],
  [18.71,1.96],[19.38,1.91],[19.55,1.91],[19.79,2.12],[19.90,2.36],[20.25,2.45],[20.55,2.27],[20.61,2.41],[20.78,2.52],[20.84,2.80],
  [20.94,3.36],[21.85,3.71],[22.55,3.61],[23.51,3.61],[23.72,3.61],[23.53,3.51],[25.18,3.61],[26.23,3.61],[26.78,3.61],[26.99,3.51],
  [26.92,3.37],[28.99,3.41],[29.23,3.41],[23.71,3.11],[22.19,3.01],[23.49,3.01],[22.58,2.91],[23.53,2.86],[23.92,2.84],[20.82,2.79],
  [25.08,2.81],[24.42,2.76],[26.10,2.86],[25.12,2.71],[23.74,2.71],[23.24,2.61],[26.22,2.61],[26.57,2.66],[27.16,2.70],[27.48,2.62],
  [28.78,2.89],[29.20,2.81],[29.23,2.71],[28.62,2.57],[27.18,2.48],[20.12,2.41],[20.36,2.41],[20.59,2.41],[20.71,2.33],[21.29,2.41],
  [21.67,2.46],[21.70,2.34],[21.88,2.29],[22.00,2.22],[22.95,2.41],[23.25,2.45],[23.51,2.52],[23.45,2.43],[22.93,2.22],[23.45,2.29],
  [21.64,2.15],[22.05,2.20],[22.58,2.10],[22.83,2.13],[22.98,2.10],[23.28,2.12],[23.49,2.17],[22.52,2.03],[22.93,1.98],[23.28,2.03],
  [23.68,2.27],[24.21,2.31],[24.54,2.29],[24.73,2.27],[25.18,2.31],[24.23,2.01],[24.42,2.01],[24.68,2.17],[26.43,2.17],[26.54,2.07],
  [26.25,2.07],[26.72,2.22],[27.38,2.41],[27.88,2.31],[28.29,2.32],[27.88,2.22],[27.88,2.15],[29.48,2.15],[29.69,2.05],[29.90,2.01],
  [29.02,1.91],[27.83,1.88],[28.12,1.88],[27.48,1.81],[27.83,1.81],[28.82,1.79],[29.11,1.81],[28.53,1.74],[29.02,1.74],[29.17,1.69],
  [27.88,2.61],[20.94,2.03],[29.90,1.91]
];

// ABS issue rate, 5Y
const abs5y = [
  [6.33,4.76],[7.39,1.91],[5.74,2.46],[8.38,2.31],[12.40,2.41],[14.33,2.38],[15.42,2.67],[18.17,2.46],[18.50,2.29],[20.55,2.79],
  [20.55,2.71],[27.88,3.81],[29.06,3.81],[29.90,3.02],[29.69,2.41],[29.90,2.32],[27.83,2.32],[27.85,2.17],[27.83,2.01],[28.85,2.46],
  [22.28,2.22],[24.21,2.20]
];

// trend lines (end points)
const trend1y = [[0.25,2.62],[29.9,1.74]];
const trend3y = [[0.25,3.60],[29.9,2.02]];
const trend5y = [[0.25,2.84],[29.9,2.48]];

// ChinaBond treasury yields
const gov1y = [
  [0,2.15],[0.35,2.12],[0.70,2.10],[0.85,2.06],[0.94,1.89],[1.17,1.91],[1.52,1.88],[1.64,1.80],[1.88,1.78],[2.23,1.81],
  [2.40,1.84],[2.70,1.78],[3.05,1.76],[3.40,1.72],[3.75,1.65],[3.87,1.78],[3.99,1.68],[4.34,1.68],[4.69,1.63],[5.04,1.60],
  [5.39,1.58],[5.74,1.56],[6.10,1.55],[6.45,1.55],[6.80,1.48],[7.03,1.41],[7.27,1.51],[7.50,1.48],[7.85,1.50],[8.09,1.47],
  [8.32,1.36],[8.56,1.39],[8.79,1.41],[8.97,1.39],[9.23,1.44],[9.59,1.46],[10.06,1.44],[10.52,1.42],[10.99,1.39],[11.23,1.36],
  [11.46,1.23],[11.64,1.02],[11.75,0.96],[11.87,1.09],[11.99,1.17],[12.17,1.06],[12.34,1.23],[12.63,1.27],[12.99,1.30],[13.22,1.23],
  [13.46,1.36],[13.69,1.48],[14.04,1.53],[14.28,1.61],[14.51,1.59],[14.74,1.61],[14.98,1.55],[15.21,1.46],[15.56,1.48],[15.92,1.50],
  [16.39,1.48],[16.85,1.46],[17.32,1.44],[17.79,1.39],[18.26,1.39],[18.85,1.41],[19.43,1.41],[20.00,1.39],[20.59,1.39],[20.94,1.39],
  [21.29,1.41],[21.58,1.48],[21.82,1.46],[21.93,1.41],[22.34,1.41],[22.93,1.41],[23.39,1.39],[23.74,1.34],[23.86,1.37],[24.06,1.36],
  [24.17,1.37],[24.41,1.27],[24.64,1.30],[25.23,1.32],[25.81,1.34],[26.40,1.29],[26.87,1.25],[27.33,1.20],[27.80,1.17],[28.27,1.20],
  [28.73,1.22],[29.20,1.20],[29.55,1.20],[29.85,1.13]
];
const gov3y = [
  [0,2.36],[0.35,2.32],[0.70,2.30],[0.94,2.20],[1.17,2.23],[1.52,2.20],[1.88,2.17],[2.23,2.15],[2.70,2.12],[3.05,2.10],
  [3.40,2.05],[3.75,1.98],[3.87,2.05],[4.10,1.99],[4.57,1.96],[5.04,1.93],[5.51,1.89],[5.98,1.82],[6.21,1.86],[6.45,1.79],
  [6.68,1.77],[7.03,1.68],[7.39,1.81],[7.62,1.74],[7.97,1.68],[8.21,1.55],[8.38,1.48],[8.56,1.50],[8.85,1.55],[8.97,1.65],
  [9.26,1.68],[9.73,1.70],[10.06,1.61],[10.52,1.55],[10.99,1.42],[11.23,1.39],[11.46,1.27],[11.70,1.13],[11.87,1.20],[12.05,1.13],
  [12.28,1.27],[12.63,1.32],[12.99,1.34],[13.34,1.41],[13.69,1.55],[14.04,1.61],[14.28,1.68],[14.51,1.68],[14.86,1.63],[15.21,1.48],
  [15.56,1.51],[15.92,1.53],[16.39,1.50],[16.85,1.48],[17.32,1.44],[17.79,1.41],[18.26,1.42],[18.85,1.46],[19.43,1.48],[20.02,1.53],
  [20.36,1.55],[21.00,1.53],[21.76,1.55],[21.88,1.46],[22.93,1.46],[23.39,1.41],[23.74,1.37],[24.03,1.46],[24.33,1.41],[25.26,1.39],
  [26.43,1.37],[26.89,1.36],[27.36,1.30],[27.83,1.29],[28.29,1.30],[28.76,1.29],[29.23,1.30],[29.87,1.29]
];
const gov5y = [
  [0,2.46],[0.35,2.41],[0.47,2.44],[0.70,2.36],[1.06,2.30],[1.41,2.28],[1.64,2.27],[1.99,2.23],[2.34,2.20],[2.70,2.20],
  [3.05,2.17],[3.40,2.12],[3.75,2.07],[3.87,2.15],[4.10,2.12],[4.57,2.14],[5.04,2.10],[5.51,2.07],[5.98,2.02],[6.21,2.05],
  [6.56,1.95],[6.92,1.88],[7.27,1.90],[7.50,1.91],[7.97,1.82],[8.32,1.75],[8.67,1.74],[8.85,1.72],[8.97,1.95],[9.14,1.86],
  [9.50,1.90],[9.73,1.82],[10.06,1.82],[10.52,1.77],[10.99,1.68],[11.23,1.58],[11.58,1.41],[11.81,1.44],[12.05,1.37],[12.28,1.44],
  [12.63,1.41],[12.99,1.42],[13.34,1.44],[13.69,1.55],[14.04,1.68],[14.28,1.74],[14.51,1.72],[14.74,1.66],[14.98,1.65],[15.21,1.51],
  [15.56,1.53],[15.92,1.55],[16.39,1.56],[16.85,1.58],[17.32,1.55],[17.79,1.53],[18.85,1.56],[19.43,1.58],[20.02,1.61],[20.59,1.61],
  [21.00,1.65],[21.53,1.61],[21.99,1.59],[22.93,1.63],[23.39,1.65],[23.74,1.61],[24.15,1.68],[24.56,1.61],[25.03,1.59],[25.49,1.58],
  [25.96,1.56],[26.43,1.58],[26.89,1.56],[27.36,1.53],[27.83,1.50],[28.29,1.50],[28.76,1.48],[29.23,1.50],[29.58,1.48],[29.87,1.44]
];

const xy = arr => arr.map(([x, y]) => ({ x, y }));

function dots(data, color, order) {
  return { type: 'scatter', data: xy(data), order: order,
           pointRadius: 4.4, pointBackgroundColor: color, pointBorderColor: 'rgba(255,255,255,0.8)', pointBorderWidth: 1 };
}
function line(data, color, dashed, order) {
  return { type: 'line', data: xy(data), order: order, borderColor: color, borderWidth: 1.8,
           borderDash: dashed ? [6, 4] : [], pointRadius: 0, tension: 0, fill: false };
}

new Chart(document.getElementById('chart'), {
  type: 'scatter',
  data: {
    datasets: [
      dots(abs5y, '#f6bf1a', 0),
      dots(abs3y, 'rgba(192,38,45,0.92)', 1),
      dots(abs1y, '#27b0e6', 2),
      line(trend1y, '#27a8e0', true, 3),
      line(trend3y, '#c0262d', true, 3),
      line(trend5y, '#f6b800', true, 3),
      line(gov1y, '#1ba6e0', false, 4),
      line(gov3y, '#b81c22', false, 4),
      line(gov5y, '#fdb913', false, 4)
    ]
  },
  options: {
    responsive: true,
    maintainAspectRatio: false,
    animation: false,
    events: [],
    layout: { padding: { top: 33, right: 32, bottom: 22, left: 0 } },
    plugins: { legend: { display: false }, tooltip: { enabled: false } },
    scales: {
      x: {
        type: 'linear', min: 0, max: 30,
        afterBuildTicks: axis => { axis.ticks = monthTicks.map((t, i) => ({ value: i * 3 })); },
        ticks: { callback: v => monthTicks[Math.round(v / 3)], color: '#333', maxRotation: 0, autoSkip: false,
                 font: { family: 'Liberation Serif', size: 15 } },
        grid: { color: '#cfcfcf', lineWidth: 1.4, tickLength: 8 },
        border: { display: false }
      },
      y: {
        min: 0, max: 6,
        afterBuildTicks: axis => { axis.ticks = yTicks.map(v => ({ value: v })); },
        afterFit: axis => { axis.width = 75; },
        ticks: { callback: v => v.toFixed(2) + '%', color: '#333', padding: 2,
                 font: { family: 'Liberation Serif', size: 15 } },
        grid: { color: '#cfcfcf', lineWidth: 1.4, tickLength: 6 },
        border: { display: false }
      }
    }
  }
});
</script>
</body>
</html>
